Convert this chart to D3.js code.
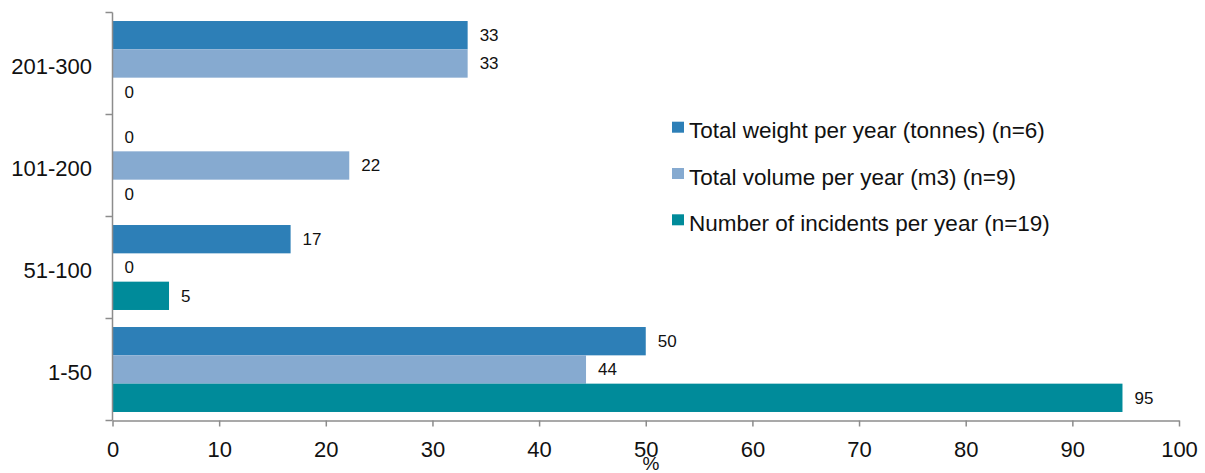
<!DOCTYPE html>
<html>
<head>
<meta charset="utf-8">
<script src="https://cdn.jsdelivr.net/npm/d3@7/dist/d3.min.js"></script>
<style>
  body { margin: 0; background: #fff; }
  svg { display: block; font-family: "Liberation Sans", Arial, sans-serif; }
</style>
</head>
<body>
<svg id="chart" width="1205" height="473"></svg>
<script>
const categories = ["201-300", "101-200", "51-100", "1-50"];
const seriesNames = [
  "Total weight per year (tonnes) (n=6)",
  "Total volume per year (m3) (n=9)",
  "Number of incidents per year (n=19)"
];
const weightValues = [33.3, 0, 16.7, 50];
const volumeValues = [33.3, 22.2, 0, 44.4];
const incidentValues = [0, 0, 5.3, 94.7];
const xTicks = [0, 10, 20, 30, 40, 50, 60, 70, 80, 90, 100];
const colors = ["#2d7fb7", "#86aad0", "#008b9a"];

const series = [weightValues, volumeValues, incidentValues];

const svg = d3.select("#chart");
const mLeft = 112.5, mRight = 1179, mTop = 12.5, mBottom = 420.5;
const axisColor = "#8c8c8c";

const x = d3.scaleLinear().domain([0, 100]).range([mLeft, mRight]);
const y = d3.scaleBand().domain(categories).range([mTop, mBottom]).paddingInner(0.167).paddingOuter(0.0835);
const yInner = d3.scaleBand().domain(d3.range(series.length)).range([0, y.bandwidth()]);
const yBand = d3.scaleBand().domain(categories).range([mTop, mBottom]);

// Bars
const groups = svg.append("g").selectAll("g")
  .data(categories)
  .join("g")
  .attr("transform", d => `translate(0,${y(d)})`);

series.forEach((vals, si) => {
  groups.append("rect")
    .attr("x", x(0))
    .attr("y", yInner(si))
    .attr("width", (d, i) => x(vals[i]) - x(0))
    .attr("height", yInner.bandwidth())
    .attr("fill", colors[si]);
  groups.append("text")
    .attr("x", (d, i) => x(vals[i]) + 12)
    .attr("y", yInner(si) + yInner.bandwidth() / 2 + 6)
    .attr("font-size", 17)
    .attr("fill", "#111")
    .text((d, i) => d3.format(".0f")(vals[i]));
});

// X axis
const xAxis = svg.append("g")
  .attr("transform", `translate(0,${mBottom})`)
  .call(d3.axisBottom(x).tickValues(xTicks).tickSize(6).tickSizeOuter(0).tickPadding(15));
xAxis.select(".domain").attr("stroke", axisColor).attr("stroke-width", 1.5);
xAxis.selectAll(".tick line").attr("stroke", axisColor).attr("stroke-width", 1.5);
xAxis.selectAll(".tick text").attr("font-size", 22).attr("font-family", "Liberation Sans, Arial, sans-serif").attr("fill", "#111");

// Y axis line + ticks at category boundaries
svg.append("line")
  .attr("x1", mLeft).attr("x2", mLeft).attr("y1", mTop).attr("y2", mBottom)
  .attr("stroke", axisColor).attr("stroke-width", 1.5);
const bounds = categories.map(c => yBand(c)).concat([mBottom]);
svg.append("g").selectAll("line")
  .data(bounds)
  .join("line")
  .attr("x1", mLeft - 7).attr("x2", mLeft)
  .attr("y1", d => d).attr("y2", d => d)
  .attr("stroke", axisColor).attr("stroke-width", 1.5);

// Category labels
svg.append("g").selectAll("text")
  .data(categories)
  .join("text")
  .attr("x", 92)
  .attr("y", d => yBand(d) + yBand.bandwidth() / 2 + 10)
  .attr("text-anchor", "end")
  .attr("font-size", 22)
  .attr("fill", "#111")
  .text(d => d);

// X axis title
svg.append("text")
  .attr("x", 651)
  .attr("y", 470)
  .attr("text-anchor", "middle")
  .attr("font-size", 19)
  .attr("fill", "#111")
  .text("%");

// Legend
const legend = svg.append("g").selectAll("g")
  .data(seriesNames)
  .join("g")
  .attr("transform", (d, i) => `translate(672,${121.7 + i * 46.3})`);
legend.append("rect")
  .attr("width", 12).attr("height", 11)
  .attr("fill", (d, i) => colors[i]);
legend.append("text")
  .attr("x", 17)
  .attr("y", 16.5)
  .attr("font-size", 22.5)
  .attr("fill", "#111")
  .text(d => d);
</script>
</body>
</html>
